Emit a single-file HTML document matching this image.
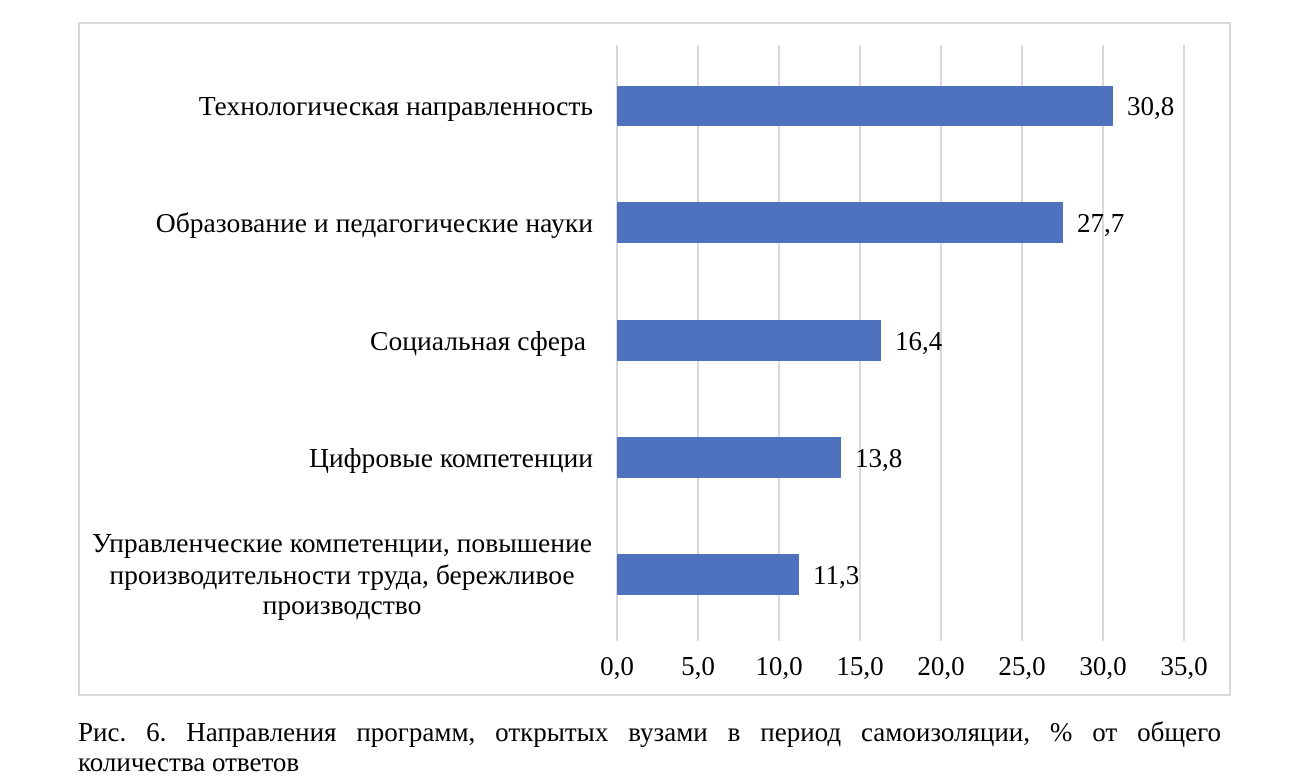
<!DOCTYPE html>
<html><head><meta charset="utf-8"><style>
body{margin:0;width:1289px;height:782px;background:#fff;overflow:hidden;font-family:"Liberation Serif",serif;color:#000;position:relative}
.t{position:absolute;font-size:27px;line-height:30px;white-space:nowrap}
</style></head><body>
<div style="position:absolute;left:78px;top:22px;width:1153px;height:674px;border:2px solid #d9d9d9;box-sizing:border-box"></div>
<svg width="1289" height="782" style="position:absolute;left:0;top:0">
<g stroke="#d9d9d9" stroke-width="2">
<line x1="617" y1="45" x2="617" y2="641"/><line x1="698" y1="45" x2="698" y2="641"/><line x1="779" y1="45" x2="779" y2="641"/><line x1="860" y1="45" x2="860" y2="641"/><line x1="941" y1="45" x2="941" y2="641"/><line x1="1022" y1="45" x2="1022" y2="641"/><line x1="1103" y1="45" x2="1103" y2="641"/><line x1="1184" y1="45" x2="1184" y2="641"/>
</g>
<g fill="#4e72be">
<rect x="617" y="86" width="496" height="40"/>
<rect x="617" y="202" width="446" height="41"/>
<rect x="617" y="320" width="264" height="41"/>
<rect x="617" y="437" width="224" height="41"/>
<rect x="617" y="554" width="182" height="41"/>
</g>
<g font-family="Liberation Serif, serif" font-size="27" text-anchor="middle">
<text x="617" y="675">0,0</text><text x="698" y="675">5,0</text><text x="779" y="675">10,0</text><text x="860" y="675">15,0</text><text x="941" y="675">20,0</text><text x="1022" y="675">25,0</text><text x="1103" y="675">30,0</text><text x="1184" y="675">35,0</text>
</g>
<g font-family="Liberation Serif, serif" font-size="27">
<text x="1127" y="115">30,8</text><text x="1077" y="232">27,7</text><text x="895" y="350">16,4</text><text x="855" y="467">13,8</text><text x="813" y="584">11,3</text>
</g>
<g font-family="Liberation Serif, serif" font-size="27.6" text-anchor="end">
<text x="593" y="115">Технологическая направленность</text>
<text x="593" y="232">Образование и педагогические науки</text>
<text x="586" y="350">Социальная сфера</text>
<text x="593" y="467">Цифровые компетенции</text>
</g>
<g font-family="Liberation Serif, serif" font-size="27.6" text-anchor="middle">
<text x="342" y="552">Управленческие компетенции, повышение</text>
<text x="342" y="584">производительности труда, бережливое</text>
<text x="342" y="614">производство</text>
</g>
</svg>
<div class="t" style="left:78px;top:717px;width:1143px;text-align:justify;text-align-last:justify">Рис. 6. Направления программ, открытых вузами в период самоизоляции, % от общего</div>
<div class="t" style="left:78px;top:747px">количества ответов</div>
</body></html>
